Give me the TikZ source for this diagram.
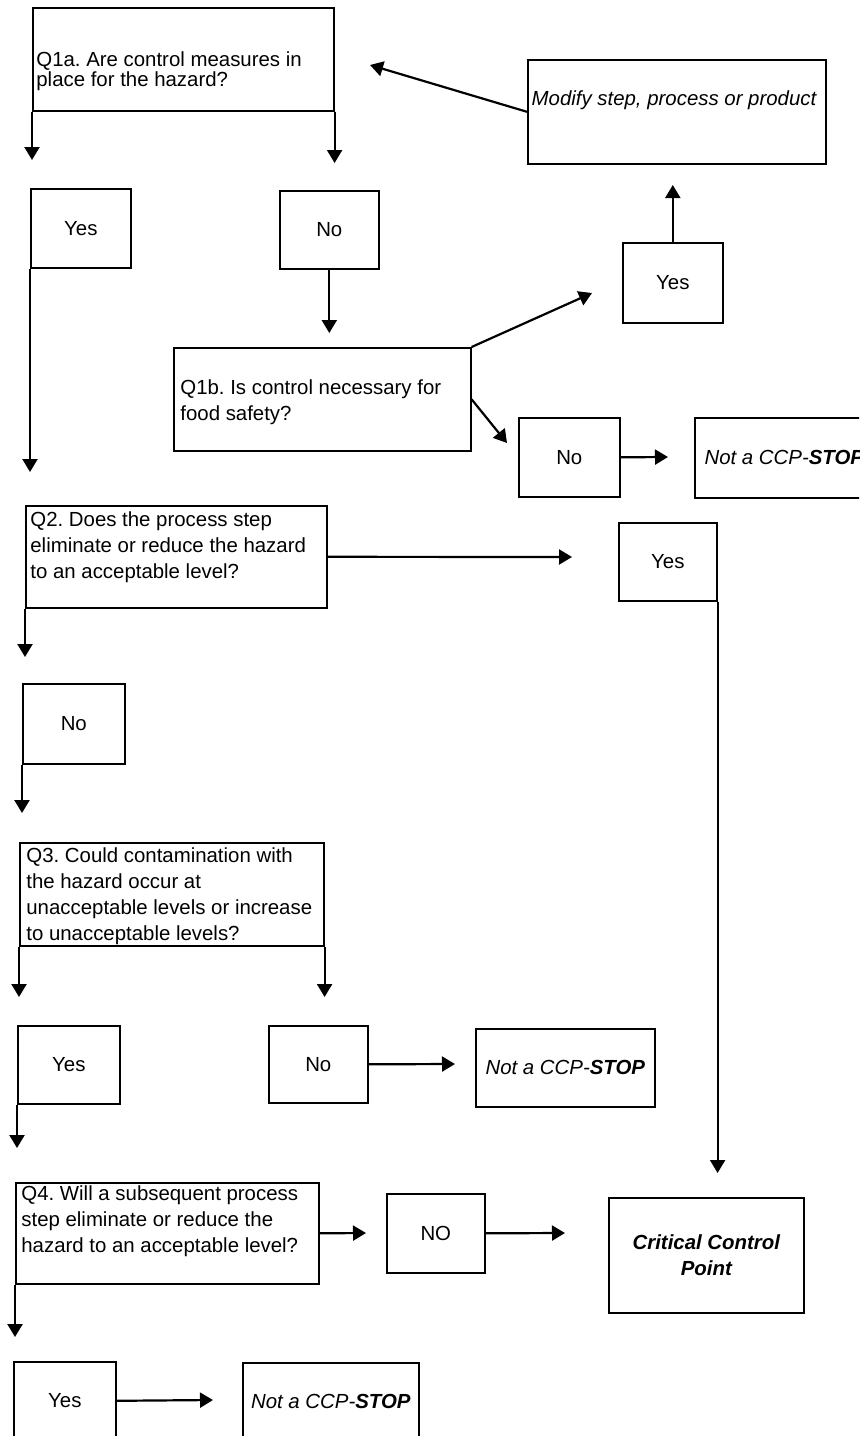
\documentclass[tikz,border=0pt]{standalone}
\usepackage{fontspec}
\setmainfont{Liberation Sans}
\usetikzlibrary{arrows.meta}
\frenchspacing
\begin{document}
\begin{tikzpicture}[x=0.5pt,y=-0.5pt,
  box/.style={draw, line width=0.8pt, rectangle, inner sep=0pt, anchor=north west,
              font=\fontsize{10.2}{13}\selectfont, align=center},
  qtxt/.style={inner sep=0pt, anchor=north west, align=left,
               font=\fontsize{10.2}{13}\selectfont},
  arr/.style={-{Triangle[length=6.5pt,width=7.5pt]}, line width=1.1pt},
  stoptxt/.style={font=\fontsize{10.2}{13}\selectfont\itshape}
]
\path[use as bounding box] (0,0) rectangle (859,1436);
\clip (0,0) rectangle (859,1436);

% question boxes with their texts
\node[box, minimum width=150.5pt, minimum height=51.5pt] (q1a) at (32,7) {};
\node[qtxt, font=\fontsize{10.2}{10.4}\selectfont] (q1a-t) at (36,51)
  {Q1a. Are control measures in\\place for the hazard?};

\node[box, minimum width=148.5pt, minimum height=51.5pt] (q1b) at (173,347) {};
\node[qtxt] (q1b-t) at (180,379) {Q1b. Is control necessary for\\food safety?};

\node[box, minimum width=150.5pt, minimum height=51pt] (q2) at (25,505) {};
\node[qtxt] (q2-t) at (30,511)
  {Q2. Does the process step\\eliminate or reduce the hazard\\to an acceptable level?};

\node[box, minimum width=152pt, minimum height=51.5pt] (q3) at (19,842) {};
\node[qtxt] (q3-t) at (26,847)
  {Q3. Could contamination with\\the hazard occur at\\unacceptable levels or increase\\to unacceptable levels?};

\node[box, minimum width=151.5pt, minimum height=50.5pt] (q4) at (15,1182) {};
\node[qtxt] (q4-t) at (21,1185)
  {Q4. Will a subsequent process\\step eliminate or reduce the\\hazard to an acceptable level?};

% modify box
\node[box, minimum width=149pt, minimum height=52pt] (modify) at (527,59) {};
\node[stoptxt, inner sep=0pt, anchor=base] (modify-t) at (674,105) {Modify step, process or product};

% answer boxes
\node[box, minimum width=50pt, minimum height=39.5pt] (yes1) at (30,188) {Yes};
\node[box, minimum width=49.5pt, minimum height=39pt] (no1) at (279,190) {No};
\node[box, minimum width=50pt, minimum height=40pt] (yes2) at (622,242) {Yes};
\node[box, minimum width=50.5pt, minimum height=39.5pt] (no2) at (518,417) {No};
\node[box, minimum width=89.5pt, minimum height=40pt] (stop1) at (694,417)
  {\itshape Not a CCP-\textbf{STOP}};
\node[box, minimum width=49pt, minimum height=39pt] (yes3) at (618,522) {Yes};
\node[box, minimum width=51pt, minimum height=40pt] (no3) at (22,683) {No};
\node[box, minimum width=51pt, minimum height=39pt] (yes4) at (17,1025) {Yes};
\node[box, minimum width=49.5pt, minimum height=38.5pt] (no4) at (268,1025) {No};
\node[box, minimum width=89.5pt, minimum height=39pt] (stop2) at (475,1028)
  {\itshape Not a CCP-\textbf{STOP}};
\node[box, minimum width=49pt, minimum height=39.5pt] (nobig) at (386,1193) {NO};
\node[box, minimum width=97.5pt, minimum height=57.5pt] (ccp) at (608,1197)
  {\bfseries\itshape Critical Control\\\bfseries\itshape Point};
\node[box, minimum width=51pt, minimum height=39pt] (yes5) at (13,1361) {Yes};
\node[box, minimum width=88pt, minimum height=39pt] (stop3) at (242,1362)
  {\itshape Not a CCP-\textbf{STOP}};

% free arrow ends
\coordinate (t1) at (31,160);
\coordinate (t2) at (333,163);
\coordinate (t3) at (29,472);
\coordinate (t4) at (328,333);
\coordinate (t5) at (592,293);
\coordinate (t6) at (672,185);
\coordinate (t7) at (370,65);
\coordinate (t8) at (507,443);
\coordinate (t9) at (668,457);
\coordinate (t10) at (572,557);
\coordinate (t11) at (715,1173);
\coordinate (t12) at (24,657);
\coordinate (t13) at (22,813);
\coordinate (t14) at (19,997);
\coordinate (t15) at (321,997);
\coordinate (t16) at (455,1064);
\coordinate (t17) at (16,1148);
\coordinate (t18) at (366,1233);
\coordinate (t19) at (565,1233);
\coordinate (t20) at (14,1337);
\coordinate (t21) at (213,1400);

% connectors
\draw[arr] (q1a.south west) -- (q1a.south west |- t1);
\draw[arr] (q1a.south east) -- (q1a.south east |- t2);
\draw[arr] (yes1.south west) -- (yes1.south west |- t3);
\draw[arr] (no1.south) -- (no1.south |- t4);
\draw[arr] (q1b.north east) -- (t5);
\draw[arr] (yes2.north) -- (yes2.north |- t6);
\draw[arr] (modify.west) -- (t7);
\draw[arr] (q1b.east) -- (t8);
\draw[arr] (no2.east) -- (t9);
\draw[arr] (q2.east) -- (t10);
\draw[arr] (yes3.south east) -- (yes3.south east |- t11);
\draw[arr] (q2.south west) -- (q2.south west |- t12);
\draw[arr] (no3.south west) -- (no3.south west |- t13);
\draw[arr] (q3.south west) -- (q3.south west |- t14);
\draw[arr] (q3.south east) -- (q3.south east |- t15);
\draw[arr] (no4.east) -- (t16);
\draw[arr] (yes4.south west) -- (yes4.south west |- t17);
\draw[arr] (q4.east) -- (t18);
\draw[arr] (nobig.east) -- (t19);
\draw[arr] (q4.south west) -- (q4.south west |- t20);
\draw[arr] (yes5.east) -- (t21);
\end{tikzpicture}
\end{document}
